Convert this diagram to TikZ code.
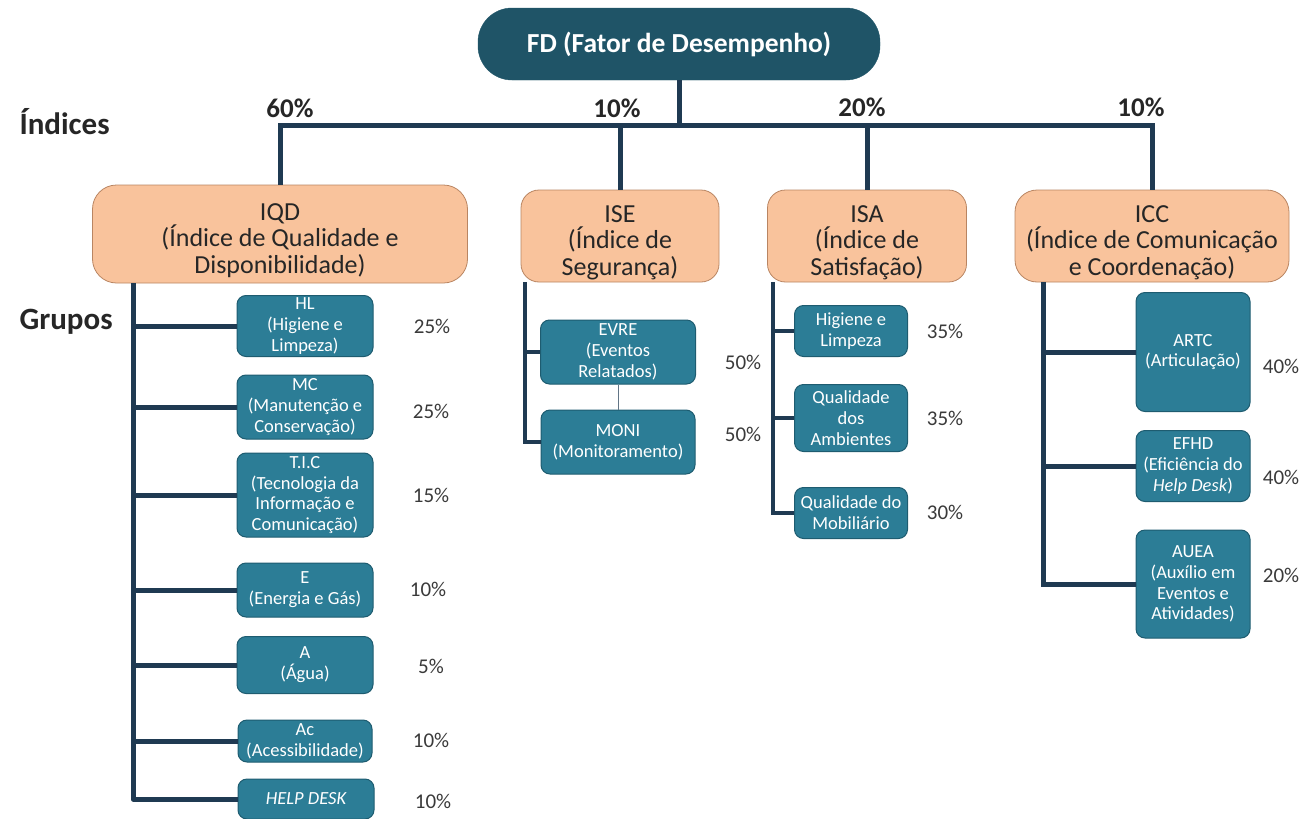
\documentclass[tikz,border=0pt]{standalone}
\usepackage{fontspec}
\setmainfont{Carlito}
\definecolor{fdfill}{HTML}{1F5467}
\definecolor{orfill}{HTML}{F9C39C}
\definecolor{ordraw}{HTML}{B98562}
\definecolor{tlfill}{HTML}{2C7D96}
\definecolor{tldraw}{HTML}{1E5C70}
\definecolor{linec}{HTML}{1F3A52}
\definecolor{pctc}{HTML}{3A3A3A}
\newcommand{\idxstrut}{\rule{0pt}{30pt}}
\begin{document}
\begin{tikzpicture}[x=1pt,y=-1pt,
  fdbox/.style={draw=fdfill,fill=fdfill,rounded corners=34pt,text=white,font=\fontsize{27.5}{30}\selectfont\bfseries,minimum width=402pt,minimum height=72pt,inner sep=0pt},
  idxbox/.style={draw=ordraw,line width=0.8pt,fill=orfill,rounded corners=24pt,text=black!85,font=\fontsize{26}{26.5}\selectfont,align=center,inner sep=0pt},
  grpbox/.style={draw=tldraw,line width=1pt,fill=tlfill,rounded corners=9pt,text=white,font=\fontsize{18.5}{20.8}\selectfont,align=center,inner sep=0pt},
  conn/.style={draw=linec,line width=5pt},
  thinconn/.style={draw=linec!70,line width=0.8pt},
  toppct/.style={font=\fontsize{27}{30}\selectfont\bfseries,text=black!85},
  pct/.style={font=\fontsize{21}{24}\selectfont,text=pctc},
  side/.style={font=\fontsize{31}{34}\selectfont\bfseries,text=black!85}]
\useasboundingbox (0,0) rectangle (1307,819);

% top node
\node[fdbox] (fd) at (679,44) {FD (Fator de Desempenho)};

% index boxes
\node[idxbox,minimum width=375pt,minimum height=98pt] (iqd) at (280,234) {\idxstrut IQD\\(Índice de Qualidade e\\Disponibilidade)};
\node[idxbox,minimum width=198pt,minimum height=92pt,rounded corners=18pt] (ise) at (620,236) {\idxstrut ISE\\(Índice de\\Segurança)};
\node[idxbox,minimum width=199pt,minimum height=92pt,rounded corners=18pt] (isa) at (867,236) {\idxstrut ISA\\(Índice de\\Satisfação)};
\node[idxbox,minimum width=274pt,minimum height=92pt,rounded corners=22pt] (icc) at (1152,236) {\idxstrut ICC\\(Índice de Comunicação\\e Coordenação)};

% side labels
\node[side,anchor=west] (lind) at (16,122) {Índices};
\node[side,anchor=west] (lgrp) at (16,322) {Grupos};

% top percentages
\node[toppct] (p1) at (290,108) {60\%};
\node[toppct] (p2) at (617,108) {10\%};
\node[toppct] (p3) at (862,107) {20\%};
\node[toppct] (p4) at (1141,107) {10\%};

% bus
\coordinate (J) at (679,125);
\draw[conn] (fd.south) -- (J);
\draw[conn] (iqd.north) |- (J) -| (ise.north);
\draw[conn] (J) -| (isa.north);
\draw[conn] (J) -| (icc.north);

% IQD groups
\node[grpbox,minimum width=136pt,minimum height=61pt] (hl) at (305,326) {HL\\(Higiene e\\Limpeza)};
\node[grpbox,minimum width=136pt,minimum height=64pt] (mc) at (305,407) {MC\\(Manutenção e\\Conservação)};
\node[grpbox,minimum width=136pt,minimum height=84pt] (tic) at (305,495) {T.I.C\\(Tecnologia da\\Informação e\\Comunicação)};
\node[grpbox,minimum width=136pt,minimum height=54pt] (e) at (305,590) {E\\(Energia e Gás)};
\node[grpbox,minimum width=136pt,minimum height=57pt] (a) at (305,665) {A\\(Água)};
\node[grpbox,minimum width=134pt,minimum height=42pt] (ac) at (305,741) {Ac\\(Acessibilidade)};
\node[grpbox,minimum width=136pt,minimum height=40pt] (hd) at (306,799) {\itshape HELP DESK};

\coordinate (qv) at (133,283);
\draw[conn] (qv) |- (hl.west);
\draw[conn] (qv) |- (mc.west);
\draw[conn] (qv) |- (tic.west);
\draw[conn] (qv) |- (e.west);
\draw[conn] (qv) |- (a.west);
\draw[conn] (qv) |- (ac.west);
\draw[conn,line join=round] (qv) |- (hd.west);

\node[pct] (phl) at (432,326) {25\%};
\node[pct] (pmc) at (431,411) {25\%};
\node[pct] (ptic) at (431,495) {15\%};
\node[pct] (pe) at (428,589) {10\%};
\node[pct] (pa) at (431,666) {5\%};
\node[pct] (pac) at (431,740) {10\%};
\node[pct] (phd) at (433,801) {10\%};

% ISE groups
\node[grpbox,minimum width=155pt,minimum height=64pt] (evre) at (618,352) {EVRE\\(Eventos\\Relatados)};
\node[grpbox,minimum width=154pt,minimum height=64pt] (moni) at (618,442) {MONI\\(Monitoramento)};
\coordinate (sv) at (525,282);
\draw[conn,line width=4pt] (sv) |- (evre.west);
\draw[conn,line width=4pt] (sv) |- (moni.west);
\draw[thinconn] (evre.south) -- (moni.north);
\node[pct] (pev) at (743,362) {50\%};
\node[pct] (pmo) at (743,434) {50\%};

% ISA groups
\node[grpbox,minimum width=113pt,minimum height=51pt] (hl2) at (851,331) {Higiene e\\Limpeza};
\node[grpbox,minimum width=113pt,minimum height=67pt] (qa) at (851,418) {Qualidade\\dos\\Ambientes};
\node[grpbox,minimum width=113pt,minimum height=51pt] (qm) at (851,513) {Qualidade do\\Mobiliário};
\coordinate (av) at (773,282);
\draw[conn,line width=4pt] (av) |- (hl2.west);
\draw[conn,line width=4pt] (av) |- (qa.west);
\draw[conn,line width=4pt] (av) |- (qm.west);
\node[pct] (p35a) at (945,331) {35\%};
\node[pct] (p35b) at (945,418) {35\%};
\node[pct] (p30) at (945,512) {30\%};

% ICC groups
\node[grpbox,minimum width=114pt,minimum height=119pt] (artc) at (1193,352) {ARTC\\(Articulação)};
\node[grpbox,minimum width=114pt,minimum height=71pt] (efhd) at (1193,466) {EFHD\\(Eficiência do\\\textit{Help Desk})};
\node[grpbox,minimum width=114pt,minimum height=108pt] (auea) at (1193,584) {AUEA\\(Auxílio em\\Eventos e\\Atividades)};
\coordinate (cv) at (1043,282);
\draw[conn] (cv) |- (artc.west);
\draw[conn] (cv) |- (efhd.west);
\draw[conn] (cv) |- (auea.west);
\node[pct] (p40a) at (1281,366) {40\%};
\node[pct] (p40b) at (1281,477) {40\%};
\node[pct] (p20) at (1281,575) {20\%};
\end{tikzpicture}
\end{document}
